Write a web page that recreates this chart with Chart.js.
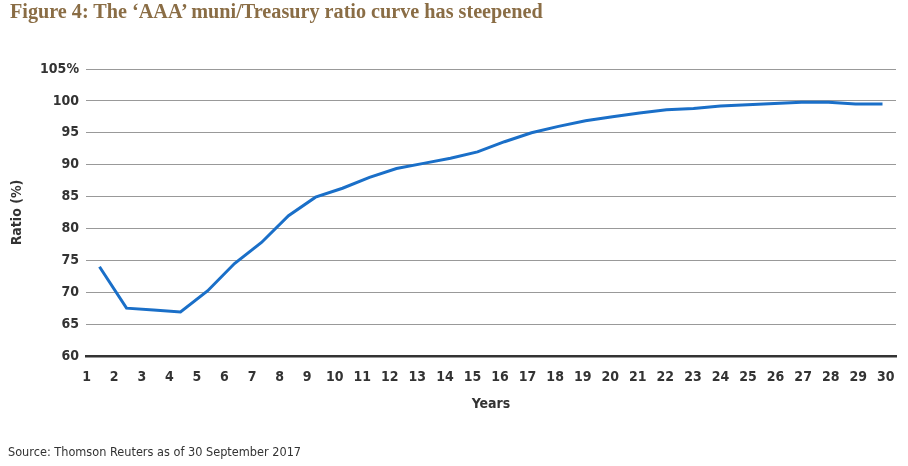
<!DOCTYPE html>
<html>
<head>
<meta charset="utf-8">
<script src="https://cdn.jsdelivr.net/npm/chart.js@4.4.1/dist/chart.umd.min.js"></script>
<style>
  html, body { margin:0; padding:0; background:#fff; }
  #wrap { position:relative; width:908px; height:466px; overflow:hidden; }
  #c { position:absolute; left:0; top:0; }
  #title { position:absolute; left:10px; top:0px; font-family:"Liberation Serif","DejaVu Serif",serif; font-weight:bold; font-size:20.2px; color:#8a6d45; white-space:nowrap; }
  #source { position:absolute; left:8px; top:444px; font-family:"Liberation Sans Narrow","DejaVu Sans Condensed",sans-serif; font-size:12.6px; color:#333; white-space:nowrap; }
</style>
</head>
<body>
<div id="wrap">
  <canvas id="c" width="908" height="466"></canvas>
  <div id="title">Figure 4: The ‘AAA’ muni/Treasury ratio curve has steepened</div>
  <div id="source">Source: Thomson Reuters as of 30 September 2017</div>
</div>
<script>
const categories = ['1','2','3','4','5','6','7','8','9','10','11','12','13','14','15','16','17','18','19','20','21','22','23','24','25','26','27','28','29','30'];
const ratioValues = [74.0, 67.5, 67.2, 66.9, 70.2, 74.5, 77.8, 82.0, 84.9, 86.3, 88.0, 89.4, 90.2, 91.0, 92.0, 93.6, 95.0, 96.0, 96.9, 97.5, 98.1, 98.6, 98.8, 99.2, 99.4, 99.6, 99.8, 99.8, 99.5, 99.5];
const xTickLabels = [1,2,3,4,5,6,7,8,9,10,11,12,13,14,15,16,17,18,19,20,21,22,23,24,25,26,27,28,29,30];
const yTickValues = [60,65,70,75,80,85,90,95,100,105];

const tickFont = { family: '"Liberation Sans Narrow","DejaVu Sans Condensed",sans-serif', size: 14, weight: 'bold' };

new Chart(document.getElementById('c'), {
  type: 'line',
  data: {
    labels: categories,
    datasets: [{
      data: ratioValues,
      xAxisID: 'xd',
      yAxisID: 'y',
      borderColor: '#1a6fc8',
      borderWidth: 3,
      pointRadius: 0,
      tension: 0,
      fill: false
    }]
  },
  options: {
    responsive: false,
    animation: false,
    devicePixelRatio: 1,
    layout: { padding: { left: 0, right: 12, top: 69, bottom: 50 } },
    plugins: { legend: { display: false }, tooltip: { enabled: false } },
    scales: {
      xd: {
        type: 'category',
        offset: true,
        display: false
      },
      xt: {
        type: 'linear',
        position: 'bottom',
        min: 0.975,
        max: 30.37,
        afterBuildTicks: (s) => { s.ticks = xTickLabels.map(v => ({ value: v })); },
        afterFit: (s) => { s.height = 60; },
        ticks: { color: '#333', font: tickFont, padding: 13, maxRotation: 0, autoSkip: false,
                 callback: (v) => String(v) },
        grid: { display: false, drawTicks: false },
        border: { display: true, color: '#333', width: 2.5 },
        title: { display: true, text: 'Years', color: '#333', font: tickFont, padding: { top: 0, bottom: 3 } }
      },
      y: {
        type: 'linear',
        min: 60,
        max: 105,
        afterBuildTicks: (s) => { s.ticks = yTickValues.map(v => ({ value: v })); },
        afterFit: (s) => { s.width = 86; },
        ticks: { color: '#333', font: tickFont, padding: 7,
                 callback: (v) => v === 105 ? '105%' : String(v) },
        grid: { color: '#999', lineWidth: 1, drawTicks: false },
        border: { display: false },
        title: { display: true, text: 'Ratio (%)', color: '#333', font: tickFont, padding: { top: 8.5, bottom: 0 } }
      }
    }
  }
});
</script>
</body>
</html>
